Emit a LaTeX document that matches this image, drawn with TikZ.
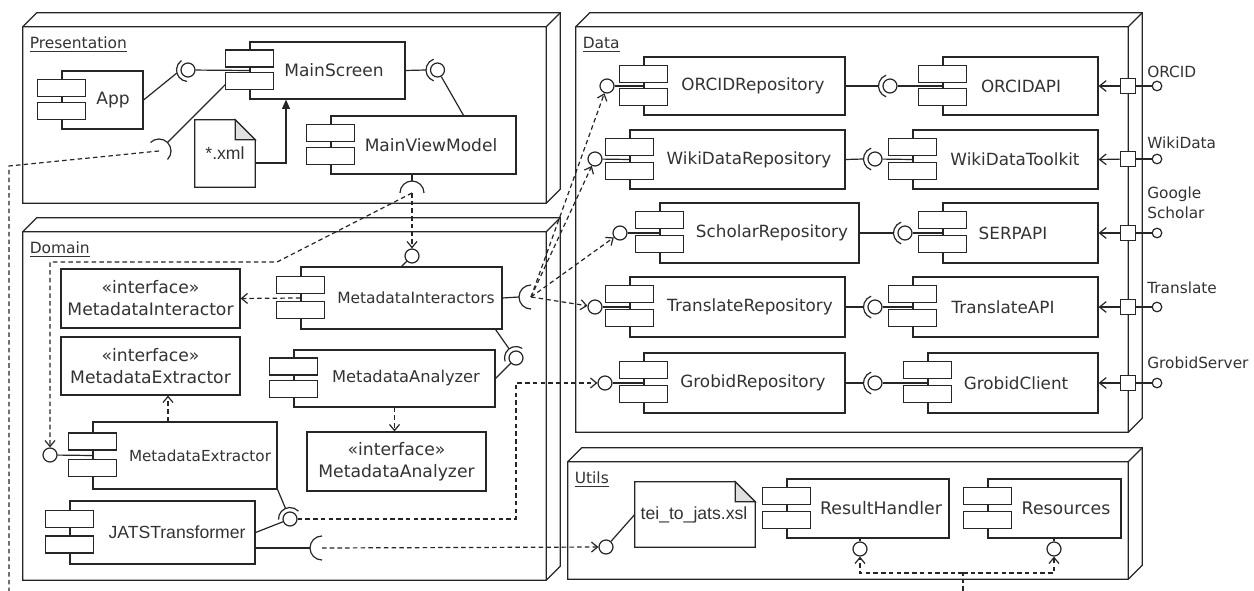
\documentclass[tikz,border=0pt]{standalone}
\usepackage{fontspec}
\setmainfont{DejaVu Sans}
\newfontfamily\arialf{Liberation Sans}
\usetikzlibrary{calc,arrows.meta}

\tikzset{
  ln/.style={line width=0.9pt, draw=black!85},
  box/.style={ln, draw, fill=white, inner sep=0pt, rectangle},
  jetty/.style={ln, fill=white},
  lbl/.style={inner sep=0pt, text=black!80},
  fsP/.style={font=\fontsize{12.8}{15}\selectfont},
  fsD/.style={font=\fontsize{12.6}{15}\selectfont},
  fsU/.style={font=\fontsize{13}{15}\selectfont},
  fsI/.style={font=\fontsize{11.6}{14}\selectfont},
  fsAn/.style={font=\fontsize{12.2}{14}\selectfont},
  fsE/.style={font=\fontsize{11.4}{14}\selectfont},
  fsJ/.style={font=\arialf\fontsize{13.2}{15}\selectfont},
  plbl/.style={lbl, font=\fontsize{11.5}{15}\selectfont},
  ball/.style={circle, ln, draw, fill=white, minimum size=10.5pt, inner sep=0pt},
  xball/.style={circle, ln, draw, fill=white, minimum size=7.2pt, inner sep=0pt},
  port/.style={rectangle, ln, draw, fill=white, minimum size=11pt, inner sep=0pt},
  depline/.style={ln, dash pattern=on 3.4pt off 2.4pt},
  dep/.style={depline, -{Straight Barb[length=4.5pt,width=7.5pt]}},
  portarrow/.style={ln, -{Straight Barb[length=5pt,width=8pt]}},
}

% package: name, front x1 y1 x2 y2, title
\newcommand\umlpkg[6]{%
  \node[inner sep=0pt, minimum width={(#4-#2)*0.75pt}, minimum height={(#5-#3)*0.75pt}] (#1) at ({(#2+#4)/2},{(#3+#5)/2}) {};
  \draw[ln, fill=white] (#1.south west) -- (#1.north west) -- ++(14,-14) -- ($(#1.north east)+(14,-14)$) -- ($(#1.south east)+(14,-14)$) -- (#1.south east) -- cycle;
  \draw[ln] (#1.north west) -- (#1.north east) -- ++(14,-14) (#1.north east) -- (#1.south east);
  \node[lbl, anchor=base west, font=\fontsize{11.6}{14}\selectfont] (#1-title) at ({#2+6.5},{#3+22}) {\underline{#6}};
}

% component: name, body x1 y1 x2 y2, text centre x, text, font style
\newcommand\umlcomp[8]{%
  \node[box, minimum width={(#4-#2)*0.75pt}, minimum height={(#5-#3)*0.75pt}] (#1) at ({(#2+#4)/2},{(#3+#5)/2}) {};
  \draw[jetty] ($(#1.north west)+(-24,{0.3*(#5-#3)-8.5})$) rectangle ++(48,17);
  \draw[jetty] ($(#1.north west)+(-24,{0.7*(#5-#3)-8.5})$) rectangle ++(48,17);
  \node[lbl,#8] (#1-label) at (#6,{(#3+#5)/2}) {#7};
}

% interface classifier box
\newcommand\umlif[6]{%
  \node[box, minimum width={(#4-#2)*0.75pt}, minimum height={(#5-#3)*0.75pt}, align=center, text=black!80, font=\fontsize{12.9}{16.5}\selectfont] (#1) at ({(#2+#4)/2},{(#3+#5)/2}) {«interface»\\#6};
}

% note with folded corner: name, x1 y1 x2 y2, text x y, text
\newcommand\umlnote[8]{%
  \node[inner sep=0pt, minimum width={(#4-#2)*0.75pt}, minimum height={(#5-#3)*0.75pt}] (#1) at ({(#2+#4)/2},{(#3+#5)/2}) {};
  \draw[ln, fill=white] (#1.north west) -- ($(#1.north east)+(-20,0)$) -- ($(#1.north east)+(0,20)$) -- (#1.south east) -- (#1.south west) -- cycle;
  \draw[ln, fill=black!12] ($(#1.north east)+(-20,0)$) -- ($(#1.north east)+(-20,20)$) -- ($(#1.north east)+(0,20)$) -- cycle;
  \node[lbl, font=\arialf\fontsize{13.2}{15}\selectfont] (#1-label) at (#6,#7) {#8};
}

% provided ball with a required socket around it: name, x, y, socket direction
\newcommand\ballsock[4]{%
  \node[ball] (#1) at (#2,#3) {};
  \draw[ln] ($(#1.center)+({#4-70}:11.5)$) arc[start angle={#4-70}, end angle={#4+70}, radius=11.5];
  \coordinate (#1-s) at ($(#1.center)+({#4}:11.5)$);
}

% lone required socket: name, x, y, direction towards its owner
\newcommand\reqsock[4]{%
  \coordinate (#1) at (#2,#3);
  \draw[ln] ($(#1)+({#4-90}:12)$) arc[start angle={#4-90}, end angle={#4+90}, radius=12];
  \coordinate (#1-s) at ($(#1)+({#4}:12)$);
}

\begin{document}
\begin{tikzpicture}[x=0.75pt,y=-0.75pt]
\useasboundingbox[fill=white] (0,0) rectangle (1254,591);

% ---------- packages ----------
\umlpkg{presentation}{23}{27}{546}{203}{Presentation}
\umlpkg{domain}{23}{232}{546}{580}{Domain}
\umlpkg{data}{576}{27}{1128}{432}{Data}
\umlpkg{utils}{568}{462}{1128}{579}{Utils}

% ---------- presentation ----------
\umlcomp{app}{62}{71}{143}{129}{113}{App}{fsP}
\umlcomp{mainscreen}{250}{42}{405}{99}{334}{MainScreen}{fsP}
\umlcomp{mainvm}{331}{116}{516}{174}{431}{MainViewModel}{fsP}
\umlnote{xml}{195}{120}{255}{187}{225}{153}{*.xml}

% ---------- domain ----------
\umlif{ifinteractor}{61}{269}{240}{328}{MetadataInteractor}
\umlif{ifextractor}{61}{337}{240}{395}{MetadataExtractor}
\umlif{ifanalyzer}{307}{432}{486}{491}{MetadataAnalyzer}
\umlcomp{interactors}{301}{267}{502}{329}{416}{MetadataInteractors}{fsI}
\umlcomp{analyzer}{294}{350}{495}{407}{406}{MetadataAnalyzer}{fsAn}
\umlcomp{extractor}{93}{422}{277}{489}{200}{MetadataExtractor}{fsE}
\umlcomp{jats}{70}{501}{255}{564}{177}{JATSTransformer}{fsJ}

% ---------- data ----------
\umlcomp{orcidrepo}{644}{57}{845}{115}{753}{ORCIDRepository}{fsD}
\umlcomp{orcidapi}{943}{57}{1098}{115}{1021}{ORCIDAPI}{fsD}
\umlcomp{wikirepo}{630}{130}{845}{189}{749}{WikiDataRepository}{fsD}
\umlcomp{wikitk}{913}{130}{1098}{189}{1015}{WikiDataToolkit}{fsD}
\umlcomp{scholarrepo}{660}{203}{859}{263}{772}{ScholarRepository}{fsD}
\umlcomp{serp}{943}{203}{1098}{263}{1013}{SERPAPI}{fsD}
\umlcomp{transrepo}{630}{277}{845}{337}{750}{TranslateRepository}{fsD}
\umlcomp{transapi}{913}{277}{1098}{337}{1003}{TranslateAPI}{fsD}
\umlcomp{grobidrepo}{644}{353}{845}{413}{753}{GrobidRepository}{fsD}
\umlcomp{grobidclient}{928}{353}{1098}{413}{1016}{GrobidClient}{fsD}

% ---------- utils ----------
\umlnote{xsl}{635}{482}{755}{547}{694}{515}{tei\_to\_jats.xsl}
\umlcomp{rh}{787}{479}{949}{538}{881}{ResultHandler}{fsU}
\umlcomp{resources}{988}{479}{1121}{538}{1066}{Resources}{fsU}

% ---------- external ports ----------
\foreach \n/\yy/\tg in {orcid/86/orcidapi, wiki/159/wikitk, scholar/233/serp, trans/307/transapi, grobid/383/grobidclient}{
  \node[port] (p-\n) at (1128,\yy) {};
  \node[xball] (x-\n) at (1157,\yy) {};
  \draw[ln] (p-\n) -- (x-\n);
  \draw[portarrow] (p-\n) -- (\tg.east);
}
\node[plbl, anchor=west] (l-orcid) at (1147,72) {ORCID};
\node[plbl, anchor=west] (l-wiki) at (1147,143) {WikiData};
\node[plbl, anchor=west, align=left] (l-scholar) at (1147,203) {Google\\Scholar};
\node[plbl, anchor=west] (l-trans) at (1147,288) {Translate};
\node[plbl, anchor=west] (l-grobid) at (1147,363) {GrobidServer};

% ---------- interfaces ----------
\ballsock{bsA}{188}{70}{165}
\ballsock{bsB}{437.5}{70}{180}
\ballsock{bsC}{516}{358}{233}
\ballsock{bsD}{290}{519}{247}
\ballsock{bsOrcid}{890}{86}{180}
\ballsock{bsWiki}{875}{159}{180}
\ballsock{bsScholar}{905}{233}{180}
\ballsock{bsTrans}{875}{307}{180}
\ballsock{bsGrobid}{875}{383}{180}

\reqsock{sA}{159}{151}{-45}
\reqsock{sB}{412}{193}{-90}
\reqsock{sC}{531}{297}{180}
\reqsock{sD}{322}{548}{180}

\node[ball] (b-int) at (412,256) {};
\node[ball] (b-ext) at (50,455) {};
\node[ball] (b-orcid) at (607,86) {};
\node[ball] (b-wiki) at (595,159) {};
\node[ball] (b-scholar) at (620,233) {};
\node[ball] (b-trans) at (595,307) {};
\node[ball] (b-grobid) at (605,383) {};
\node[ball] (b-xsl) at (606,547) {};
\node[ball] (b-rh) at (860,549) {};
\node[ball] (b-res) at (1054,549) {};

% ---------- solid wiring ----------
\draw[ln] (app.east) -- (bsA-s);
\draw[ln] (bsA) -- (mainscreen.west);
\draw[ln] (mainscreen.east) -- (bsB-s);
\draw[ln] (bsB) -- ($(mainvm.north)+(40,0)$);
\draw[ln] ($(mainscreen.west)+(-24,14)$) -- (sA-s);
\draw[ln] ($(mainvm.south)+(-11.5,0)$) -- (sB-s);
\draw[ln, -{Triangle[length=7pt,width=6pt]}] ($(xml.east)+(0,9.5)$) -| ($(mainscreen.south)+(-41.5,0)$);

\draw[ln] (b-int) -- (interactors.north);
\draw[ln] (interactors.east) -- (sC-s);
\draw[ln] ($(interactors.south east)+(-7,0)$) -- (bsC-s);
\draw[ln] (bsC) -- (analyzer.east);
\draw[ln] (b-ext) -- (extractor.west);
\draw[ln] (extractor.south east) -- (bsD-s);
\draw[ln] (jats.east) -- (bsD);
\draw[ln] ($(jats.east)+(0,15.5)$) -- (sD-s);

\draw[ln] (b-orcid) -- (orcidrepo.west);
\draw[ln] (orcidrepo.east) -- (bsOrcid-s);
\draw[ln] (bsOrcid) -- (orcidapi.west);
\draw[ln] (b-wiki) -- (wikirepo.west);
\draw[ln] (wikirepo.east) -- (bsWiki-s);
\draw[ln] (bsWiki) -- (wikitk.west);
\draw[ln] (b-scholar) -- (scholarrepo.west);
\draw[ln] (scholarrepo.east) -- (bsScholar-s);
\draw[ln] (bsScholar) -- (serp.west);
\draw[ln] (b-trans) -- (transrepo.west);
\draw[ln] (transrepo.east) -- (bsTrans-s);
\draw[ln] (bsTrans) -- (transapi.west);
\draw[ln] (b-grobid) -- (grobidrepo.west);
\draw[ln] (grobidrepo.east) -- (bsGrobid-s);
\draw[ln] (bsGrobid) -- (grobidclient.west);

\draw[ln] (b-xsl) -- (xsl.west);
\draw[ln] (b-rh) -- (b-rh |- rh.south);
\draw[ln] (b-res) -- (b-res |- resources.south);

% ---------- dependencies ----------
\coordinate (bl) at (9,591);
\coordinate (br) at (963,591);
\draw[depline] (sA) -- ++(-150,15) -- (bl);
\draw[dep] (sB) -- (b-int);
\draw[dep] (sB) -- ++(-135,69) -| (b-ext);
\draw[dep] (interactors.west) -- (ifinteractor.east);
\draw[dep] (analyzer.south) -- (analyzer.south |- ifanalyzer.north);
\draw[dep] ($(extractor.north)+(-17,0)$) coordinate (eup) -- (eup |- ifextractor.south);
\draw[dep] (sC) -- (b-orcid);
\draw[dep] (sC) -- (b-wiki);
\draw[dep] (sC) -- (b-scholar);
\draw[dep] (sC) -- (b-trans);
\draw[dep] (bsD) -- ++(226,0) |- (b-grobid);
\draw[dep] (sD) -- (b-xsl);
\draw[depline] (br) -- ++(0,-18) coordinate (bj);
\draw[dep] (bj) -| (b-rh);
\draw[dep] (bj) -| (b-res);
\end{tikzpicture}
\end{document}
